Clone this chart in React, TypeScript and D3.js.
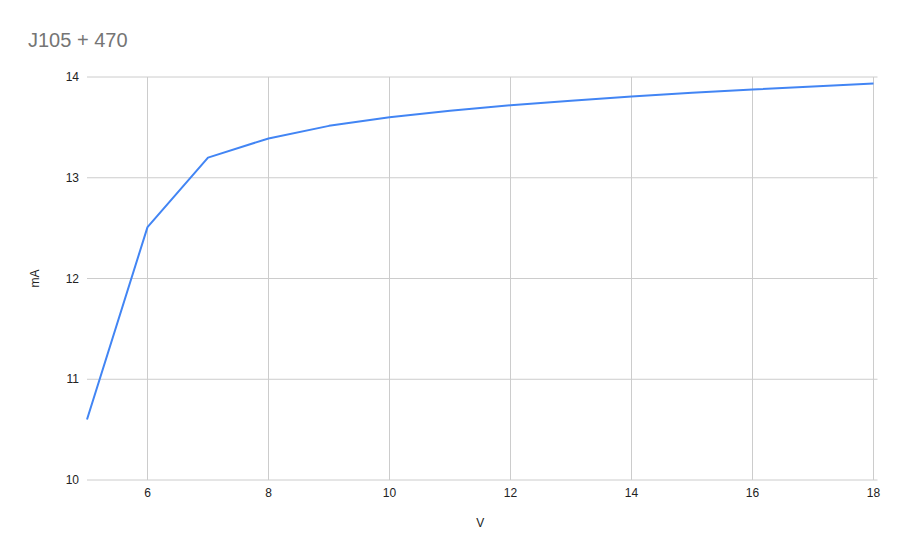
import React, { useEffect, useRef } from "react";
import * as d3 from "d3";

const volts = [5, 6, 7, 8, 9, 10, 11, 12, 13, 14, 15, 16, 17, 18];
const milliamps = [10.6, 12.51, 13.2, 13.39, 13.515, 13.6, 13.665, 13.72, 13.765, 13.806, 13.843, 13.876, 13.906, 13.935];
const xTicks = [6, 8, 10, 12, 14, 16, 18];
const yTicks = [10, 11, 12, 13, 14];

const width = 905;
const height = 560;
const margin = { top: 77, right: 31.5, bottom: 80, left: 87 };
const font = "Liberation Sans, Arial, sans-serif";

const App = () => {
  const svgRef = useRef(null);

  useEffect(() => {
    const svg = d3.select(svgRef.current);
    svg.selectAll("*").remove();

    const x = d3
      .scaleLinear()
      .domain([5, 18])
      .range([margin.left, width - margin.right]);

    const y = d3
      .scaleLinear()
      .domain([10, 14])
      .range([height - margin.bottom, margin.top]);

    svg
      .append("rect")
      .attr("width", width)
      .attr("height", height)
      .attr("fill", "#fff");

    // grid
    svg
      .append("g")
      .selectAll("line")
      .data(xTicks)
      .enter()
      .append("line")
      .attr("x1", (d) => x(d))
      .attr("x2", (d) => x(d))
      .attr("y1", y(10))
      .attr("y2", y(14))
      .attr("stroke", "#cccccc")
      .attr("stroke-width", 1);

    svg
      .append("g")
      .selectAll("line")
      .data(yTicks)
      .enter()
      .append("line")
      .attr("x1", x(5))
      .attr("x2", x(18) + 4)
      .attr("y1", (d) => y(d))
      .attr("y2", (d) => y(d))
      .attr("stroke", "#cccccc")
      .attr("stroke-width", 1);

    // tick labels
    svg
      .append("g")
      .selectAll("text")
      .data(yTicks)
      .enter()
      .append("text")
      .attr("x", x(5) - 8)
      .attr("y", (d) => y(d) + 4)
      .attr("text-anchor", "end")
      .attr("font-family", font)
      .attr("font-size", 12)
      .attr("fill", "#222")
      .text((d) => d);

    svg
      .append("g")
      .selectAll("text")
      .data(xTicks)
      .enter()
      .append("text")
      .attr("x", (d) => x(d))
      .attr("y", y(10) + 17)
      .attr("text-anchor", "middle")
      .attr("font-family", font)
      .attr("font-size", 12)
      .attr("fill", "#222")
      .text((d) => d);

    // line
    const line = d3
      .line<number>()
      .x((d, i) => x(volts[i]))
      .y((d) => y(d));

    svg
      .append("path")
      .datum(milliamps)
      .attr("d", line)
      .attr("fill", "none")
      .attr("stroke", "#4285f4")
      .attr("stroke-width", 2)
      .attr("stroke-linejoin", "round");

    // titles
    svg
      .append("text")
      .attr("x", 28)
      .attr("y", 47)
      .attr("font-family", font)
      .attr("font-size", 20)
      .attr("fill", "#757575")
      .text("J105 + 470");

    svg
      .append("text")
      .attr("x", (x(5) + x(18)) / 2)
      .attr("y", 527)
      .attr("text-anchor", "middle")
      .attr("font-family", font)
      .attr("font-size", 12)
      .attr("fill", "#222")
      .text("V");

    svg
      .append("text")
      .attr("transform", `translate(39, ${(y(10) + y(14)) / 2}) rotate(-90)`)
      .attr("text-anchor", "middle")
      .attr("font-family", font)
      .attr("font-size", 12)
      .attr("fill", "#222")
      .text("mA");
  }, []);

  return (
    <svg
      ref={svgRef}
      width={width}
      height={height}
      style={{ position: "absolute", top: 0, left: 0 }}
    />
  );
};

export default App;
